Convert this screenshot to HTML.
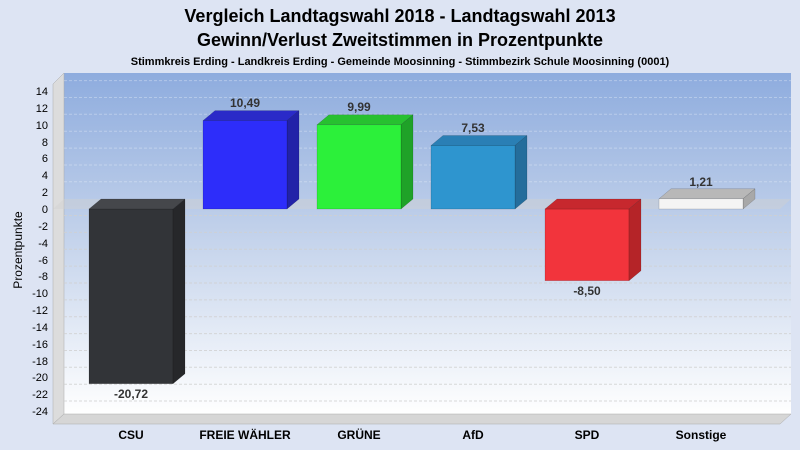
<!DOCTYPE html>
<html><head><meta charset="utf-8"><style>
body{margin:0;background:#dde4f3;}
svg{display:block;font-family:"Liberation Sans",Arial,sans-serif;}
</style></head><body>
<svg width="800" height="450" viewBox="0 0 800 450">
<defs>
<linearGradient id="bg" x1="0" y1="0" x2="0" y2="1">
<stop offset="0" stop-color="#8eacde"/><stop offset="0.45" stop-color="#c0d0ea"/><stop offset="1" stop-color="#ffffff"/>
</linearGradient>
</defs>
<rect width="800" height="450" fill="#dde4f3"/>
<text x="400" y="22" text-anchor="middle" font-size="18" font-weight="bold" fill="#000">Vergleich Landtagswahl 2018 - Landtagswahl 2013</text>
<text x="400" y="46" text-anchor="middle" font-size="18" font-weight="bold" fill="#000">Gewinn/Verlust Zweitstimmen in Prozentpunkte</text>
<text x="400" y="65" text-anchor="middle" font-size="11" font-weight="bold" fill="#000">Stimmkreis Erding - Landkreis Erding - Gemeinde Moosinning - Stimmbezirk Schule Moosinning (0001)</text>
<rect x="64" y="73" width="727" height="341" fill="url(#bg)"/>
<polygon points="53,84 64,73 64,414 53,424" fill="#dcdcdc" stroke="#aaa" stroke-width="0.5"/>
<polygon points="53,424 64,414 791,414 780,424" fill="#d6d6d6" stroke="#aaa" stroke-width="0.5"/>
<g stroke="#ffffff" stroke-opacity="0.3" stroke-dasharray="3,2" stroke-width="1">
<line x1="64" x2="791" y1="80.6" y2="80.6"/><line x1="64" x2="791" y1="97.5" y2="97.5"/><line x1="64" x2="791" y1="114.3" y2="114.3"/>
<line x1="64" x2="791" y1="131.2" y2="131.2"/><line x1="64" x2="791" y1="148.1" y2="148.1"/><line x1="64" x2="791" y1="165" y2="165"/>
<line x1="64" x2="791" y1="181.8" y2="181.8"/></g>
<g stroke="#cfcfcf" stroke-opacity="0.8" stroke-dasharray="3,2" stroke-width="1">
<line x1="64" x2="791" y1="215.5" y2="215.5"/><line x1="64" x2="791" y1="232.4" y2="232.4"/><line x1="64" x2="791" y1="249.3" y2="249.3"/>
<line x1="64" x2="791" y1="266.1" y2="266.1"/><line x1="64" x2="791" y1="283" y2="283"/><line x1="64" x2="791" y1="299.9" y2="299.9"/>
<line x1="64" x2="791" y1="316.7" y2="316.7"/><line x1="64" x2="791" y1="333.6" y2="333.6"/><line x1="64" x2="791" y1="350.5" y2="350.5"/>
<line x1="64" x2="791" y1="367.3" y2="367.3"/><line x1="64" x2="791" y1="384.2" y2="384.2"/><line x1="64" x2="791" y1="401" y2="401"/>
</g>
<polygon points="53,209 64,199 791,199 780,209" fill="#d0d0d0" fill-opacity="0.45"/>
<g font-size="11" fill="#000" text-anchor="end">
<text x="48" y="95">14</text><text x="48" y="112">12</text><text x="48" y="129">10</text><text x="48" y="146">8</text>
<text x="48" y="162">6</text><text x="48" y="179">4</text><text x="48" y="196">2</text><text x="48" y="213">0</text>
<text x="48" y="230">-2</text><text x="48" y="247">-4</text><text x="48" y="264">-6</text><text x="48" y="280">-8</text>
<text x="48" y="297">-10</text><text x="48" y="314">-12</text><text x="48" y="331">-14</text><text x="48" y="348">-16</text>
<text x="48" y="365">-18</text><text x="48" y="381">-20</text><text x="48" y="398">-22</text><text x="48" y="415">-24</text>
</g>
<text transform="translate(22,250) rotate(-90)" text-anchor="middle" font-size="12" fill="#000">Prozentpunkte</text>
<g stroke="#000" stroke-opacity="0.25" stroke-width="0.5">
<rect x="89" y="209" width="84" height="174.7" fill="#323438"/>
<polygon points="89,209 101,199 185,199 173,209" fill="#45474b"/>
<polygon points="173,209 185,199 185,373.7 173,383.7" fill="#26272a"/>
<polygon points="203,120.6 215,110.6 299,110.6 287,120.6" fill="#2a2ac8"/>
<polygon points="287,120.6 299,110.6 299,199 287,209" fill="#2222a8"/>
<rect x="203" y="120.6" width="84" height="88.4" fill="#2d2dfa"/>
<polygon points="317,124.8 329,114.8 413,114.8 401,124.8" fill="#27c030"/>
<polygon points="401,124.8 413,114.8 413,199 401,209" fill="#1fa228"/>
<rect x="317" y="124.8" width="84" height="84.2" fill="#2cf03a"/>
<polygon points="431,145.5 443,135.5 527,135.5 515,145.5" fill="#2a7fb5"/>
<polygon points="515,145.5 527,135.5 527,199 515,209" fill="#246d9c"/>
<rect x="431" y="145.5" width="84" height="63.5" fill="#2e95cf"/>
<rect x="545" y="209" width="84" height="71.7" fill="#f2343c"/>
<polygon points="545,209 557,199 641,199 629,209" fill="#c7282e"/>
<polygon points="629,209 641,199 641,270.7 629,280.7" fill="#b52428"/>
<polygon points="659,198.8 671,188.8 755,188.8 743,198.8" fill="#b8b8b8"/>
<polygon points="743,198.8 755,188.8 755,199 743,209" fill="#a8a8a8"/>
<rect x="659" y="198.8" width="84" height="10.2" fill="#f4f4f4"/>
</g>
<g font-size="12" font-weight="bold" fill="#333" text-anchor="middle">
<text x="131" y="398">-20,72</text><text x="245" y="107">10,49</text><text x="359" y="111">9,99</text>
<text x="473" y="132">7,53</text><text x="587" y="295">-8,50</text><text x="701" y="186">1,21</text>
</g>
<g font-size="12" font-weight="bold" fill="#000" text-anchor="middle">
<text x="131" y="439">CSU</text><text x="245" y="439">FREIE WÄHLER</text><text x="359" y="439">GRÜNE</text>
<text x="473" y="439">AfD</text><text x="587" y="439">SPD</text><text x="701" y="439">Sonstige</text>
</g>
</svg>
</body></html>
